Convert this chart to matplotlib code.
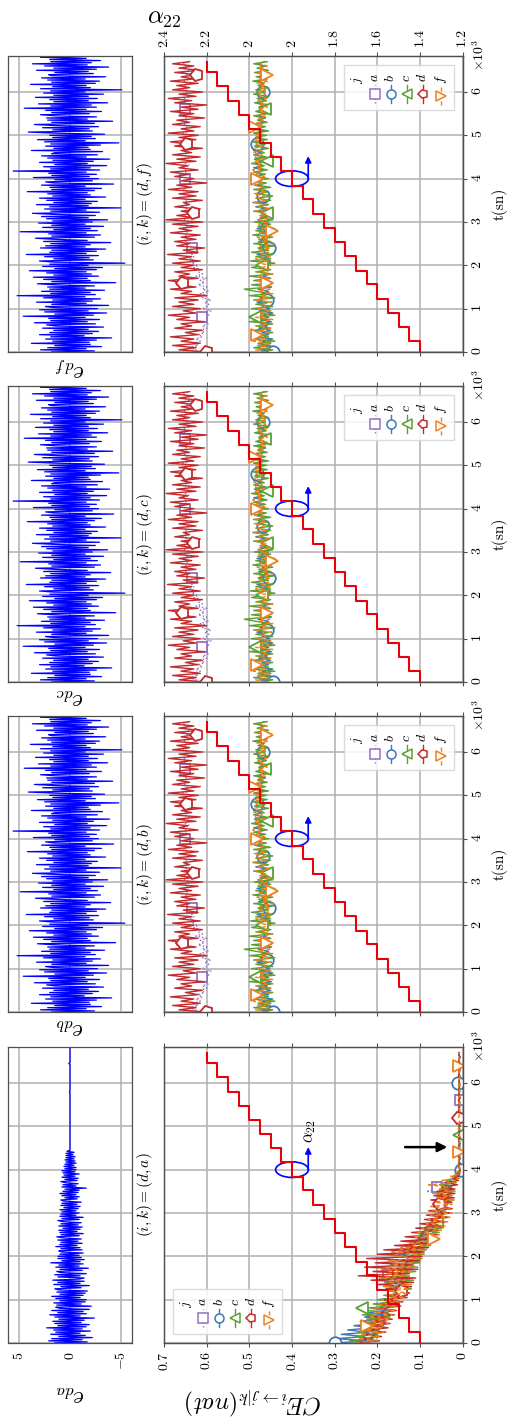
import numpy as np
import matplotlib
matplotlib.use("Agg")
import matplotlib.pyplot as plt
from matplotlib.markers import MarkerStyle
from matplotlib.transforms import Affine2D
from matplotlib.patches import Ellipse
from matplotlib.lines import Line2D
from matplotlib.offsetbox import (AnchoredOffsetbox, DrawingArea, HPacker,
                                  TextArea, VPacker)

plt.rcParams.update({
    "font.family": "serif",
    "font.serif": ["cmr10", "DejaVu Serif"],
    "mathtext.fontset": "cm",
    "axes.unicode_minus": False,
})

# ---------------- data ----------------
# sampling steps of the series (sn)
E_DT = 25
CE_DT = 50

t_ticks = [0, 1000, 2000, 3000, 4000, 5000, 6000]
t_labels = ["0", "1", "2", "3", "4", "5", "6"]
ce_ticks = [0, 0.1, 0.2, 0.3, 0.4, 0.5, 0.6, 0.7]
ce_labels = ["0", "0.1", "0.2", "0.3", "0.4", "0.5", "0.6", "0.7"]
alpha_labels = ["1.2", "1.4", "1.6", "1.8", "2", "2", "2.2", "2.4"]
e_ticks = [-5, 0, 5]
e_labels = ["-5", "0", "5"]

# alpha_22 staircase (same in every column)
alpha_t = [0, 250, 580, 900, 1230, 1560, 1880, 2210, 2540, 2860, 3190,
           3520, 3840, 4170, 4500, 4820, 5150, 5480, 5800, 6130, 6460, 6700]
alpha_lvl = [1.371, 1.414, 1.457, 1.500, 1.543, 1.586, 1.629, 1.671, 1.714,
             1.757, 1.800, 1.843, 1.886, 1.929, 1.971, 2.014, 2.057, 2.100,
             2.143, 2.186, 2.229, 2.229]

# innovation e_da : decaying, then flat after ~4.45e3
e_da = [1.5, -1.7, 2.1, -1.2, 1.8, -2.2, 1.1, -1.5, 1.9, -1.0, 1.4, -2.0, 1.6, -1.2, 2.3, -1.6, 1.2, -1.9, 1.5, -1.1,
        1.7, -1.4, 1.1, -2.4, 1.5, -1.0, 2.0, -1.6, 1.2, -1.3, 1.8, -1.9, 1.0, 1.4, -2.1, 1.3, -1.1, 1.6, -1.5, 1.0,
        -1.6, 1.4, -1.0, 1.8, -1.3, 1.0, -1.5, 1.3, -1.7, 1.1, 1.5, -1.1, 0.9, -1.9, 1.6, -1.0, 1.2, -1.4, 1.7, -0.9,
        -1.4, 1.2, -1.0, 1.5, -1.6, 0.9, 1.3, -1.2, 1.0, -1.8, 1.4, -0.9, 1.1, -1.3, 1.9, -1.0, 0.8, -1.4, 1.2, -1.1,
        1.2, -0.9, 1.0, -1.3, 0.8, 1.1, -1.2, 0.9, -1.0, 1.4, -0.7, 1.0, -1.2, 0.9, -0.8, 1.2, -1.1, 0.7, 1.3, -0.9,
        0.9, -1.3, 1.0, -0.7, 1.1, -1.0, 0.7, -1.2, 1.1, -0.8, 0.9, -1.1, 0.7, 1.2, -0.9, 0.8, -1.3, 1.0, -0.6, 0.9,
        -0.9, 0.8, -0.6, 1.0, -0.8, 0.6, -1.0, 0.9, -0.7, 0.8, -1.1, 0.6, 0.9, -0.7, 0.5, -0.9, 0.8, -0.6, 1.0, -0.8,
        0.7, -0.9, 0.5, -1.6, 0.8, -0.6, 0.7, -0.8, 0.5, 0.9, -0.7, 0.5, -0.8, 0.8, -0.5, 0.6, -0.9, 0.7, -0.5, 0.8,
        -0.6, 0.5, -0.6, 0.6, -0.4, 0.5, -0.6, 0.4, -0.5, 0.5, -0.4, 0.4, -0.5, 0.4, -0.3, 0.4, -0.4, 0.3, 0.0, 0.0,
        0, 0, 0, 0, 0, 0, 0, 0, 0, 0,
        0, 0, 0, 0, 0, 0, 0, 0, 0, 0,
        0, 0, 0, 0, 0, 0, 0, 0, 0, 0,
        0, 0, 0, 0, 0, 0, 0, 0, 0, 0,
        0, 0, 0, 0, 0, 0, 0, 0, 0, 0,
        0, 0, 0.06, 0, 0, 0, 0, 0, 0, 0,
        0, 0, 0, 0, 0, 0, 0, 0, 0, 0,
        0, 0, 0, 0, 0, 0, 0, 0, 0.12, 0,
        0, 0, 0, 0, 0, 0, 0, 0, 0, 0,
        0, 0, 0, 0]

# innovations e_db, e_dc, e_df look identical in the picture
e_dbcf = [1.8, -2.4, 2.9, -1.6, 2.2, -3.1, 1.5, -2.0, 3.8, -1.9, 1.7, -2.6, 2.4, -4.1, 1.9, -1.4, 3.0, -2.2, 2.0, -2.8,
          1.6, -1.8, 2.7, -3.3, 1.4, 2.3, -2.5, 3.5, -1.7, 1.9, -2.9, 2.1, -1.5, 4.6, -2.3, 1.5, -3.6, 2.5, -1.8, 3.0,
          -2.7, 1.6, 2.4, -3.8, 1.8, -1.6, 3.3, -2.2, 1.7, -3.0, 2.6, -1.5, 5.2, -2.5, 1.9, -2.0, 2.8, -3.4, 2.0, -1.5,
          2.2, -2.4, 1.5, 3.2, -4.5, 1.8, -2.0, 2.6, -1.7, 3.6, -2.8, 1.6, -2.1, 2.3, -1.6, 4.0, -2.6, 1.5, -3.2, 2.7,
          -1.8, 2.0, -5.4, 1.7, 3.0, -2.3, 1.6, -1.9, 2.5, -2.8, 4.3, -1.6, 2.0, -2.6, 1.8, -3.5, 2.9, -1.5, 2.4, -2.0,
          1.9, -4.0, 2.6, -1.7, 1.5, 3.4, -2.4, 1.8, -3.0, 2.1, -1.6, 4.9, -2.7, 1.6, -2.0, 2.7, -3.3, 1.8, -1.5, 3.1,
          -2.2, 1.7, -3.7, 2.3, -1.8, 2.8, -2.5, 1.5, 3.7, -2.9, 1.9, -1.6, 2.5, -5.0, 2.0, -1.8, 3.3, -2.1, 1.6, -2.7,
          2.3, -1.5, 3.0, -3.5, 1.7, -2.0, 2.2, -1.7, 4.2, -2.4, 1.8, -3.1, 2.0, -1.5, 2.8, -4.3, 1.6, 2.4, -2.2, 1.5,
          -2.8, 3.6, -1.9, 1.8, -2.6, 2.1, -1.6, 5.6, -2.9, 1.9, -2.0, 2.6, -3.6, 1.5, -1.7, 3.0, -2.3, 1.7, -3.9, 2.2,
          -1.6, 2.8, -2.7, 1.8, 1.5, -3.2, 3.8, -2.0, 1.6, -1.8, 2.4, -3.0, 1.9, -4.8, 2.5, -1.5, 3.2, -2.5, 1.7, -2.1,
          2.0, -3.4, 1.5, 4.1, -2.2, 1.7, -1.9, 2.7, -2.8, 1.5, 3.5, -2.4, 1.8, -4.2, 2.2, -1.7, 2.3, -2.6, 1.5, 2.9,
          -1.9, 1.8, -3.1, 2.4, -1.6, 4.5, -2.6, 1.9, -2.1, 3.1, -3.7, 1.6, -1.8, 2.0, -2.7, 3.4, -1.8, 1.6, -3.3, 2.6,
          -1.5, 1.9, -5.1, 2.9, -2.0, 1.7, -1.6, 3.9, -2.5, 1.8, -2.9, 2.2, -1.5, 2.8, -3.5, 1.8, 2.1, -2.3, 1.5, -1.8,
          3.3, -2.6, 1.6, -3.8, 2.5, -1.7, 3.7, -2.1, 1.9, -3.0, 2.0, -1.6, 2.9, -2.4]
e_db = e_dbcf
e_dc = e_dbcf
e_df = e_dbcf

# CE_{d->j|a}, j = a, b, c, d, f  (column (i,k) = (d,a))
ce_da_a = [0.235, 0.210, 0.240, 0.200, 0.230, 0.195, 0.225, 0.185, 0.220, 0.180,
           0.215, 0.175, 0.205, 0.170, 0.200, 0.160, 0.195, 0.155, 0.190, 0.150,
           0.180, 0.145, 0.175, 0.140, 0.170, 0.135, 0.180, 0.140, 0.185, 0.145,
           0.190, 0.150, 0.174, 0.140, 0.180, 0.130, 0.165, 0.125, 0.155, 0.120,
           0.145, 0.110, 0.135, 0.100, 0.125, 0.090, 0.115, 0.080, 0.100, 0.075,
           0.090, 0.065, 0.085, 0.060, 0.075, 0.055, 0.070, 0.050, 0.065, 0.045,
           0.060, 0.040, 0.055, 0.035, 0.050, 0.040, 0.060, 0.045, 0.070, 0.050,
           0.085, 0.055, 0.061, 0.040, 0.045, 0.025, 0.030, 0.012, 0.015, 0.008, 0.006,
           0.008, 0.010, 0.007, 0.009, 0.008, 0.006, 0.009, 0.010, 0.007, 0.008,
           0.009, 0.007, 0.010, 0.008, 0.006, 0.009, 0.008, 0.010, 0.007, 0.009,
           0.008, 0.006, 0.010, 0.008, 0.009, 0.007, 0.008, 0.010, 0.006, 0.009,
           0.008, 0.007, 0.010, 0.008, 0.009, 0.006, 0.008, 0.010, 0.007, 0.009,
           0.008, 0.010, 0.006, 0.008, 0.009, 0.007, 0.010, 0.008, 0.006, 0.009,
           0.008, 0.007, 0.009, 0.008]
ce_da_b = [0.300, 0.225, 0.295, 0.230, 0.285, 0.220, 0.270, 0.215, 0.255, 0.205,
           0.240, 0.195, 0.230, 0.185, 0.225, 0.175, 0.215, 0.170, 0.205, 0.160,
           0.195, 0.150, 0.180, 0.140, 0.170, 0.130, 0.175, 0.135, 0.165, 0.140,
           0.185, 0.130, 0.165, 0.125, 0.180, 0.115, 0.160, 0.120, 0.150, 0.110,
           0.117, 0.150, 0.095, 0.140, 0.090, 0.135, 0.080, 0.120, 0.075, 0.110,
           0.065, 0.100, 0.060, 0.090, 0.050, 0.085, 0.045, 0.075, 0.040, 0.070,
           0.035, 0.065, 0.030, 0.062, 0.035, 0.060, 0.028, 0.055, 0.032, 0.058,
           0.025, 0.052, 0.030, 0.045, 0.018, 0.038, 0.012, 0.022, 0.008, 0.014, 0.005,
           0.009, 0.007, 0.010, 0.008, 0.006, 0.009, 0.007, 0.010, 0.008, 0.007,
           0.009, 0.006, 0.008, 0.010, 0.007, 0.009, 0.008, 0.006, 0.010, 0.008,
           0.007, 0.009, 0.008, 0.010, 0.006, 0.008, 0.009, 0.007, 0.010, 0.008,
           0.007, 0.009, 0.006, 0.008, 0.010, 0.007, 0.009, 0.008, 0.008, 0.010,
           0.007, 0.009, 0.006, 0.008, 0.010, 0.007, 0.009, 0.008, 0.006, 0.010,
           0.008, 0.007, 0.009, 0.008]
ce_da_c = [0.230, 0.265, 0.210, 0.250, 0.200, 0.245, 0.195, 0.235, 0.185, 0.230,
           0.180, 0.225, 0.170, 0.235, 0.175, 0.220, 0.235, 0.165, 0.210, 0.155,
           0.200, 0.145, 0.185, 0.125, 0.175, 0.120, 0.170, 0.130, 0.180, 0.115,
           0.190, 0.125, 0.165, 0.110, 0.175, 0.105, 0.170, 0.100, 0.155, 0.095,
           0.150, 0.090, 0.140, 0.085, 0.130, 0.075, 0.115, 0.070, 0.105, 0.065,
           0.100, 0.055, 0.090, 0.050, 0.085, 0.045, 0.061, 0.080, 0.035, 0.070,
           0.030, 0.065, 0.025, 0.070, 0.035, 0.055, 0.020, 0.060, 0.025, 0.065,
           0.018, 0.050, 0.025, 0.055, 0.015, 0.040, 0.008, 0.022, 0.006, 0.012, 0.006,
           0.007, 0.009, 0.008, 0.010, 0.006, 0.008, 0.009, 0.007, 0.010, 0.008,
           0.006, 0.009, 0.008, 0.007, 0.010, 0.008, 0.009, 0.006, 0.008, 0.010,
           0.007, 0.009, 0.008, 0.006, 0.010, 0.008, 0.007, 0.009, 0.010, 0.008,
           0.006, 0.009, 0.007, 0.010, 0.008, 0.009, 0.006, 0.008, 0.010, 0.007,
           0.009, 0.008, 0.006, 0.010, 0.007, 0.009, 0.008, 0.010, 0.006, 0.008,
           0.009, 0.007, 0.008, 0.009]
ce_da_d = [0.245, 0.195, 0.240, 0.190, 0.235, 0.180, 0.230, 0.175, 0.220, 0.170,
           0.215, 0.165, 0.210, 0.160, 0.200, 0.155, 0.195, 0.145, 0.190, 0.140,
           0.185, 0.130, 0.175, 0.125, 0.143, 0.180, 0.120, 0.200, 0.115, 0.215,
           0.110, 0.245, 0.125, 0.210, 0.105, 0.230, 0.115, 0.205, 0.100, 0.225,
           0.095, 0.200, 0.090, 0.185, 0.080, 0.160, 0.075, 0.145, 0.070, 0.135,
           0.060, 0.120, 0.055, 0.110, 0.045, 0.100, 0.040, 0.090, 0.035, 0.085,
           0.030, 0.080, 0.025, 0.070, 0.053, 0.025, 0.075, 0.020, 0.065, 0.018,
           0.060, 0.018, 0.050, 0.012, 0.040, 0.010, 0.022, 0.008, 0.014, 0.006, 0.006,
           0.010, 0.008, 0.006, 0.009, 0.007, 0.010, 0.008, 0.009, 0.006, 0.008,
           0.010, 0.007, 0.009, 0.008, 0.006, 0.010, 0.007, 0.008, 0.009, 0.006,
           0.008, 0.010, 0.007, 0.009, 0.008, 0.006, 0.010, 0.008, 0.007, 0.009,
           0.008, 0.010, 0.006, 0.008, 0.009, 0.007, 0.010, 0.008, 0.006, 0.009,
           0.008, 0.007, 0.010, 0.008, 0.009, 0.006, 0.008, 0.010, 0.007, 0.009,
           0.008, 0.006, 0.009, 0.008]
ce_da_f = [0.250, 0.200, 0.245, 0.195, 0.240, 0.185, 0.235, 0.190, 0.225, 0.175,
           0.225, 0.170, 0.220, 0.165, 0.205, 0.160, 0.210, 0.155, 0.195, 0.145,
           0.190, 0.135, 0.180, 0.130, 0.170, 0.125, 0.185, 0.120, 0.175, 0.135,
           0.195, 0.125, 0.180, 0.115, 0.190, 0.110, 0.165, 0.115, 0.175, 0.100,
           0.155, 0.095, 0.170, 0.090, 0.145, 0.080, 0.125, 0.070, 0.068, 0.115,
           0.055, 0.110, 0.050, 0.095, 0.040, 0.085, 0.035, 0.080, 0.030, 0.075,
           0.025, 0.070, 0.030, 0.075, 0.025, 0.065, 0.020, 0.060, 0.025, 0.070,
           0.020, 0.055, 0.035, 0.080, 0.018, 0.048, 0.010, 0.028, 0.008, 0.014, 0.006,
           0.008, 0.009, 0.007, 0.010, 0.008, 0.006, 0.009, 0.008, 0.010, 0.007,
           0.008, 0.009, 0.006, 0.010, 0.008, 0.007, 0.009, 0.008, 0.010, 0.006,
           0.009, 0.008, 0.007, 0.010, 0.008, 0.009, 0.006, 0.008, 0.010, 0.007,
           0.009, 0.008, 0.010, 0.006, 0.008, 0.009, 0.007, 0.010, 0.008, 0.006,
           0.009, 0.008, 0.007, 0.010, 0.008, 0.009, 0.006, 0.008, 0.010, 0.007,
           0.009, 0.008, 0.007, 0.009]

# CE_{d->j|k} for k = b, c, f (the three columns look the same)
ce_dx_a = [0.635, 0.625, 0.640, 0.620, 0.630, 0.615, 0.625, 0.610, 0.620, 0.605,
           0.615, 0.600, 0.610, 0.595, 0.605, 0.600, 0.610, 0.595, 0.605, 0.590,
           0.610, 0.600, 0.595, 0.605, 0.590, 0.610, 0.600, 0.615, 0.595, 0.610,
           0.600, 0.620, 0.605, 0.615, 0.600, 0.625, 0.610, 0.620, 0.615, 0.630,
           0.620, 0.635, 0.625, 0.640, 0.630, 0.635, 0.625, 0.640, 0.635, 0.645,
           0.640, 0.650, 0.640, 0.655, 0.645, 0.650, 0.640, 0.655, 0.645, 0.650,
           0.640, 0.652, 0.645, 0.655, 0.640, 0.650, 0.645, 0.656, 0.642, 0.652,
           0.645, 0.655, 0.640, 0.650, 0.646, 0.656, 0.642, 0.652, 0.645, 0.655,
           0.650, 0.656, 0.644, 0.652, 0.646, 0.655, 0.640, 0.650, 0.645, 0.655,
           0.642, 0.652, 0.646, 0.656, 0.640, 0.650, 0.645, 0.655, 0.642, 0.652,
           0.646, 0.656, 0.640, 0.650, 0.645, 0.655, 0.642, 0.652, 0.646, 0.656,
           0.640, 0.650, 0.650, 0.655, 0.642, 0.652, 0.646, 0.656, 0.640, 0.650,
           0.645, 0.655, 0.642, 0.652, 0.646, 0.656, 0.640, 0.650, 0.645, 0.655,
           0.642, 0.652, 0.646, 0.656, 0.640]
ce_dx_b = [0.445, 0.475, 0.440, 0.480, 0.450, 0.470, 0.445, 0.485, 0.455, 0.470,
           0.450, 0.478, 0.458, 0.472, 0.448, 0.480, 0.455, 0.468, 0.445, 0.475,
           0.452, 0.470, 0.460, 0.482, 0.459, 0.475, 0.450, 0.470, 0.455, 0.480,
           0.448, 0.472, 0.458, 0.478, 0.450, 0.468, 0.455, 0.480, 0.452, 0.470,
           0.458, 0.476, 0.450, 0.470, 0.455, 0.482, 0.448, 0.468, 0.455, 0.475,
           0.452, 0.478, 0.460, 0.470, 0.450, 0.476, 0.456, 0.482, 0.458, 0.472,
           0.455, 0.480, 0.460, 0.474, 0.452, 0.478, 0.462, 0.485, 0.458, 0.476,
           0.460, 0.480, 0.469, 0.484, 0.462, 0.478, 0.465, 0.488, 0.468, 0.480,
           0.462, 0.486, 0.470, 0.482, 0.465, 0.490, 0.468, 0.484, 0.472, 0.488,
           0.466, 0.485, 0.474, 0.490, 0.470, 0.486, 0.483, 0.492, 0.475, 0.486,
           0.470, 0.488, 0.465, 0.482, 0.472, 0.486, 0.468, 0.480, 0.462, 0.478,
           0.466, 0.482, 0.460, 0.476, 0.468, 0.484, 0.462, 0.478, 0.465, 0.480,
           0.469, 0.482, 0.462, 0.476, 0.466, 0.480, 0.460, 0.478, 0.465, 0.474,
           0.462, 0.478, 0.466, 0.480, 0.464]
ce_dx_c = [0.470, 0.445, 0.490, 0.450, 0.480, 0.440, 0.495, 0.455, 0.475, 0.445,
           0.490, 0.450, 0.485, 0.445, 0.500, 0.455, 0.487, 0.440, 0.480, 0.450,
           0.495, 0.445, 0.485, 0.455, 0.490, 0.440, 0.500, 0.450, 0.485, 0.512,
           0.450, 0.495, 0.445, 0.490, 0.455, 0.500, 0.445, 0.485, 0.450, 0.495,
           0.470, 0.440, 0.498, 0.450, 0.485, 0.445, 0.495, 0.455, 0.480, 0.440,
           0.490, 0.450, 0.478, 0.445, 0.492, 0.455, 0.485, 0.440, 0.480, 0.450,
           0.488, 0.445, 0.475, 0.450, 0.459, 0.490, 0.445, 0.480, 0.455, 0.492,
           0.450, 0.485, 0.445, 0.478, 0.455, 0.490, 0.450, 0.480, 0.460, 0.495,
           0.455, 0.485, 0.462, 0.490, 0.458, 0.480, 0.465, 0.495, 0.459, 0.485,
           0.460, 0.490, 0.465, 0.480, 0.455, 0.488, 0.462, 0.492, 0.458, 0.484,
           0.460, 0.490, 0.455, 0.482, 0.462, 0.488, 0.458, 0.480, 0.465, 0.490,
           0.455, 0.485, 0.463, 0.478, 0.450, 0.488, 0.460, 0.482, 0.455, 0.490,
           0.462, 0.485, 0.455, 0.480, 0.465, 0.492, 0.458, 0.484, 0.460, 0.488,
           0.455, 0.482, 0.462, 0.490, 0.458]
ce_dx_d = [0.600, 0.665, 0.625, 0.680, 0.615, 0.660, 0.630, 0.685, 0.620, 0.650,
           0.610, 0.675, 0.635, 0.660, 0.605, 0.670, 0.640, 0.690, 0.625, 0.655,
           0.615, 0.680, 0.630, 0.665, 0.620, 0.675, 0.600, 0.660, 0.635, 0.685,
           0.625, 0.670, 0.655, 0.690, 0.620, 0.665, 0.640, 0.675, 0.610, 0.660,
           0.630, 0.680, 0.615, 0.665, 0.635, 0.692, 0.620, 0.655, 0.605, 0.670,
           0.640, 0.675, 0.625, 0.660, 0.615, 0.685, 0.635, 0.665, 0.620, 0.680,
           0.610, 0.695, 0.630, 0.670, 0.630, 0.660, 0.615, 0.675, 0.640, 0.655,
           0.610, 0.680, 0.625, 0.665, 0.620, 0.690, 0.635, 0.670, 0.600, 0.660,
           0.630, 0.675, 0.640, 0.685, 0.620, 0.665, 0.645, 0.695, 0.625, 0.670,
           0.615, 0.680, 0.635, 0.660, 0.610, 0.675, 0.647, 0.685, 0.625, 0.665,
           0.620, 0.690, 0.630, 0.660, 0.615, 0.680, 0.640, 0.670, 0.605, 0.665,
           0.630, 0.685, 0.620, 0.660, 0.600, 0.675, 0.635, 0.690, 0.625, 0.665,
           0.610, 0.680, 0.640, 0.670, 0.620, 0.685, 0.630, 0.660, 0.623, 0.675,
           0.615, 0.665, 0.630, 0.680, 0.640]
ce_dx_f = [0.460, 0.485, 0.455, 0.480, 0.450, 0.490, 0.462, 0.478, 0.483, 0.455,
           0.475, 0.450, 0.482, 0.458, 0.470, 0.445, 0.485, 0.455, 0.478, 0.450,
           0.480, 0.458, 0.472, 0.448, 0.485, 0.455, 0.475, 0.445, 0.480, 0.452,
           0.470, 0.448, 0.459, 0.480, 0.452, 0.475, 0.445, 0.482, 0.455, 0.470,
           0.450, 0.478, 0.455, 0.485, 0.448, 0.472, 0.455, 0.480, 0.450, 0.475,
           0.445, 0.470, 0.455, 0.482, 0.448, 0.475, 0.447, 0.470, 0.452, 0.478,
           0.458, 0.482, 0.450, 0.476, 0.460, 0.485, 0.455, 0.478, 0.462, 0.488,
           0.458, 0.480, 0.465, 0.490, 0.460, 0.482, 0.468, 0.486, 0.470, 0.490,
           0.483, 0.465, 0.488, 0.470, 0.492, 0.468, 0.484, 0.472, 0.490, 0.466,
           0.486, 0.470, 0.492, 0.474, 0.488, 0.468, 0.485, 0.476, 0.490, 0.472,
           0.486, 0.470, 0.484, 0.474, 0.487, 0.468, 0.482, 0.465, 0.478, 0.460,
           0.476, 0.462, 0.480, 0.458, 0.474, 0.465, 0.482, 0.460, 0.476, 0.462,
           0.480, 0.458, 0.475, 0.462, 0.482, 0.455, 0.476, 0.460, 0.459, 0.478,
           0.462, 0.480, 0.458, 0.476, 0.465]

series_names = ["a", "b", "c", "d", "f"]
ce_da = dict(zip(series_names, [ce_da_a, ce_da_b, ce_da_c, ce_da_d, ce_da_f]))
ce_dx = dict(zip(series_names, [ce_dx_a, ce_dx_b, ce_dx_c, ce_dx_d, ce_dx_f]))

# ---------------- styles ----------------
pent = MarkerStyle("p", transform=Affine2D().rotate_deg(90))
styles = {
    "a": dict(color="#9471c4", marker="s", ls=(0, (1, 1.5)), ms=7.5),
    "b": dict(color="#3e78b8", marker="o", ls="-", ms=9),
    "c": dict(color="#5ba034", marker="<", ls="-", ms=9),
    "d": dict(color="#c22a2c", marker=pent, ls="-", ms=9.5),
    "f": dict(color="#f07f1c", marker=">", ls=(0, (3, 2)), ms=9),
}
every_da = {"a": (32, 40), "b": (0, 40), "c": (16, 40), "d": (24, 40), "f": (8, 40)}
every_dx = {"a": (16, 32), "b": (0, 24), "c": (16, 24), "d": (0, 32), "f": (8, 24)}

GRID = "#b0b0b0"
SPINE = "#505050"
W, H = 513, 1422
TMAX = 6830

bands = [
    dict(top=1047, k="a", e=e_da, ce=ce_da, every=every_da, loc="lower left"),
    dict(top=716, k="b", e=e_db, ce=ce_dx, every=every_dx, loc="upper right"),
    dict(top=386, k="c", e=e_dc, ce=ce_dx, every=every_dx, loc="upper right"),
    dict(top=56, k="f", e=e_df, ce=ce_dx, every=every_dx, loc="upper right"),
]
band_h = 296


def make_legend(host, loc):
    cols = []
    for name in series_names:
        st = styles[name]
        txt = TextArea("$%s$" % name, textprops=dict(rotation=90, fontsize=10))
        da = DrawingArea(7, 13, 0, 0)
        da.add_artist(Line2D([3.5, 3.5], [0, 13], color=st["color"], lw=1.0, ls=st["ls"]))
        da.add_artist(Line2D([3.5], [6.5], marker=st["marker"], ms=6.5, mfc="white",
                             mec=st["color"], mew=1.1, ls="none"))
        cols.append(VPacker(children=[txt, da], align="center", pad=0, sep=2))
    title = TextArea("$j$", textprops=dict(rotation=90, fontsize=10))
    box = HPacker(children=[title] + cols, align="top", pad=0, sep=2.5)
    lg = AnchoredOffsetbox(loc=loc, child=box, pad=0.35, borderpad=0.65, frameon=True)
    lg.patch.set_edgecolor("#d5d5d5")
    lg.patch.set_facecolor("white")
    lg.patch.set_alpha(0.85)
    lg.patch.set_boxstyle("square", pad=0)
    host.add_artist(lg)


fig = plt.figure(figsize=(W / 100, H / 100), dpi=100)

for n, b in enumerate(bands):
    first = n == 0
    last = n == len(bands) - 1
    bottom = 1 - (b["top"] + band_h) / H

    # ---- innovation panel ----
    axs = fig.add_axes([8 / W, bottom, 124 / W, band_h / H])
    t_e = np.arange(len(b["e"])) * E_DT
    axs.plot(b["e"], t_e, color="#0000ff", lw=0.9)
    axs.set_xlim(6.1, -6.1)
    axs.set_ylim(0, TMAX)
    axs.set_xticks(e_ticks)
    axs.set_yticks(t_ticks)
    axs.grid(True, color=GRID, lw=1.1)
    axs.tick_params(axis="y", length=0, labelleft=False)
    if first:
        axs.set_xticklabels(["$%s$" % s for s in e_labels])
        axs.tick_params(axis="x", length=0, pad=6, labelsize=10, labelrotation=90)
    else:
        axs.tick_params(axis="x", length=0, labelbottom=False)
    axs.set_xlabel("$e_{d%s}$" % b["k"], fontsize=17, rotation=180)
    axs.xaxis.set_label_coords(0.5, -0.135 if first else -0.012)
    for sp in axs.spines.values():
        sp.set_color(SPINE)
        sp.set_linewidth(0.9)

    # ---- CE panel ----
    ax = fig.add_axes([164 / W, bottom, 298.7 / W, band_h / H])
    ax2 = ax.twiny()
    for name in series_names:
        st = styles[name]
        vals = b["ce"][name]
        t_ce = np.arange(len(vals)) * CE_DT
        ax.plot(vals, t_ce, color=st["color"], ls=st["ls"], lw=1.0,
                marker=st["marker"], ms=st["ms"], mfc="white", mec=st["color"],
                mew=1.3, markevery=b["every"][name])
    ax.set_xlim(0.7, 0)
    ax.set_ylim(0, TMAX)
    ax.set_xticks(ce_ticks)
    ax.set_yticks(t_ticks)
    ax.grid(True, color=GRID, lw=1.1)
    ax.yaxis.tick_right()
    ax.set_yticklabels(["$%s$" % s for s in t_labels])
    ax.tick_params(axis="y", direction="out", length=3, pad=3, labelsize=10,
                   labelrotation=90, color=SPINE)
    if first:
        ax.set_xticklabels(["$%s$" % s for s in ce_labels])
        ax.tick_params(axis="x", direction="out", length=3, pad=3, labelsize=10,
                       labelrotation=90, color=SPINE)
        ax.set_xlabel(r"$CE_{i\rightarrow j|k}(nat)$", fontsize=17, rotation=180)
        ax.xaxis.set_label_coords(0.30, -0.145)
    else:
        ax.tick_params(axis="x", direction="out", length=3, labelbottom=False,
                       color=SPINE)
    ax.yaxis.set_label_position("right")
    ax.set_ylabel("t(sn)", fontsize=11, rotation=90, labelpad=5)
    ax.text(-0.064, 0.5, r"$(i,k) = (d,%s)$" % b["k"], rotation=90, ha="center",
            va="center", fontsize=11, transform=ax.transAxes)
    ax.text(1.054, 0.949, r"$\times10^3$", rotation=90, ha="center", va="bottom",
            fontsize=10, transform=ax.transAxes)

    # ellipse + arrow pointing at the alpha_22 axis
    ax.add_patch(Ellipse((0.4, 4000), width=0.077, height=360, fill=False,
                         ec="#0000ff", lw=1.2, zorder=5))
    ax.annotate("", xy=(0.362, 4520), xytext=(0.362, 4000),
                arrowprops=dict(arrowstyle="-|>", color="#0000ff", lw=1.2,
                                mutation_scale=9, shrinkA=0, shrinkB=0), zorder=5)
    if first:
        ax.text(0.357, 4900, r"$\alpha_{22}$", rotation=90, ha="center",
                va="center", fontsize=12)
        ax.annotate("", xy=(0.036, 4520), xytext=(0.135, 4520),
                    arrowprops=dict(arrowstyle="-|>", color="black", lw=1.8,
                                    mutation_scale=14, shrinkA=0, shrinkB=0))

    # alpha_22 staircase on the twin axis
    ax2.plot(alpha_lvl, alpha_t, color="#e8000b", lw=1.5, drawstyle="steps-pre")
    ax2.set_xlim(2.4, 1.2)
    ax2.set_xticks(np.linspace(1.2, 2.4, len(alpha_labels)))
    if last:
        ax2.set_xticklabels(["$%s$" % s for s in alpha_labels])
        ax2.tick_params(axis="x", direction="out", length=3, pad=3, labelsize=10,
                        labelrotation=90, color=SPINE)
        ax2.set_xlabel(r"$\alpha_{22}$", fontsize=18)
        ax2.xaxis.set_label_coords(0.0, 1.11)
    else:
        ax2.tick_params(axis="x", direction="out", length=3, labeltop=False,
                        color=SPINE)
    for a_ in (ax, ax2):
        for sp in a_.spines.values():
            sp.set_color(SPINE)
            sp.set_linewidth(0.9)

    make_legend(ax2, b["loc"])

fig.savefig("out.png", dpi=100)
